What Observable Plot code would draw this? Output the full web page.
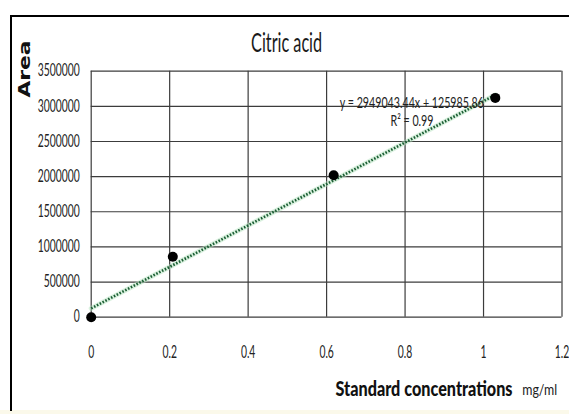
<!DOCTYPE html>
<html><head><meta charset="utf-8">
<script src="https://cdn.jsdelivr.net/npm/d3@7"></script>
<script src="https://cdn.jsdelivr.net/npm/@observablehq/plot@0.6"></script>
<style>
html,body{margin:0;padding:0;background:#fff;}
#wrap{position:relative;width:569px;height:414px;overflow:hidden;background:#fff;}
#wrap svg{position:absolute;left:0;top:0;}
#frame{position:absolute;left:10px;top:15px;width:600px;height:394px;border-left:2px solid #000;border-top:2px solid #000;pointer-events:none;}
#strip{position:absolute;left:0;top:410px;width:569px;height:4px;background:#fbf9ea;}
</style></head><body>
<div id="wrap"><div id="strip"></div></div>
<script>
// ---- data ----
const concentrations = [0, 0.208, 0.618, 1.03];
const areas = [0, 860000, 2020000, 3120000];
const xTicks = [0, 0.2, 0.4, 0.6, 0.8, 1, 1.2];
const yTicks = [0, 500000, 1000000, 1500000, 2000000, 2500000, 3000000, 3500000];
const slope = 2949043.44;
const intercept = 125985.86;
const rSquared = 0.99;
const titleText = "Citric acid";
const yLabelText = "Area";
const xLabelText = "Standard concentrations";
const xUnitText = "mg/ml";

const points = concentrations.map((c, i) => ({c, a: areas[i]}));
const trend = [d3.min(concentrations), d3.max(concentrations)].map(c => ({c, a: slope * c + intercept}));
const eqText = `y = ${slope.toFixed(2)}x + ${intercept.toFixed(2)}`;
const r2Text = `R² = ${rSquared.toFixed(2)}`;

const FONT = 'Lato, "Liberation Sans", sans-serif';
const gridStyle = {stroke: "#3c3c3c", strokeOpacity: 1, strokeWidth: 1.2};
const mid = {lineAnchor: "middle"};

const chart = Plot.plot({
  width: 569,
  height: 414,
  marginLeft: 90.7,
  marginRight: 7.5,
  marginTop: 70.7,
  marginBottom: 97.3,
  x: {domain: [0, 1.2]},
  y: {domain: [0, 3500000]},
  style: {fontFamily: FONT, fontSize: "16px", color: "#222", background: "transparent", overflow: "visible"},
  marks: [
    Plot.gridX(xTicks, gridStyle),
    Plot.gridY(yTicks, gridStyle),
    Plot.axisX({ticks: xTicks, tickSize: 0, tickPadding: 29.5, tickFormat: d => String(d), label: null, fontSize: 16.5}),
    Plot.axisY({ticks: yTicks, tickSize: 0, tickPadding: 11.4, tickFormat: d => String(d), label: null, fontSize: 16.5}),
    Plot.line(trend, {x: "c", y: "a", stroke: "#b5e3c0", strokeWidth: 5, strokeOpacity: 0.5}),
    Plot.line(trend, {x: "c", y: "a", stroke: "#1b5e34", strokeWidth: 2.6, strokeDasharray: "1.6,1.6", strokeLinecap: "butt"}),
    Plot.dot(points, {x: "c", y: "a", r: 5, fill: "#000", stroke: "none"}),
    Plot.text([titleText], {...mid, frameAnchor: "top", textAnchor: "middle", dx: -40, dy: -27.3, fontSize: 26.5, fill: "#1a1a1a"}),
    Plot.text([yLabelText], {...mid, frameAnchor: "top-left", textAnchor: "middle", dx: -66.3, dy: -2.2, rotate: -90, fontSize: 15.5, fontWeight: "bold", fontFamily: '"DejaVu Sans", sans-serif', fill: "#111"}),
    Plot.text([xLabelText], {...mid, frameAnchor: "bottom-left", textAnchor: "start", dx: 244.3, dy: 72.2, fontSize: 21.5, fontWeight: 900, fill: "#111"}),
    Plot.text([xUnitText], {...mid, frameAnchor: "bottom-left", textAnchor: "start", dx: 431, dy: 72.2, fontSize: 16, fill: "#222"}),
    Plot.text([eqText], {...mid, frameAnchor: "top-right", textAnchor: "end", dx: -78.2, dy: 32.4, fontSize: 14.5, fill: "#222"}),
    Plot.text([r2Text], {...mid, frameAnchor: "top-right", textAnchor: "middle", dx: -150, dy: 50, fontSize: 14.5, fill: "#222"})
  ]
});
const wrap = document.getElementById("wrap");
wrap.appendChild(chart);
const fr = document.createElement("div");
fr.id = "frame";
wrap.appendChild(fr);

function squeeze(el, t) {
  if (t > 0) {
    el.setAttribute("textLength", t);
    el.setAttribute("lengthAdjust", "spacingAndGlyphs");
  }
}
const targets = new Map([[titleText, 71], [yLabelText, 57], [xLabelText, 177], [xUnitText, 35], [eqText, 144], [r2Text, 43]]);
const allTexts = Array.from(chart.querySelectorAll("text"));
const ref = allTexts.find(t => t.textContent === "3500000");
const tickFactor = ref ? 42 / ref.getComputedTextLength() : 0.8;
const tickSet = new Set([...xTicks, ...yTicks].map(String));
for (const t of allTexts) {
  const s = t.textContent;
  if (targets.has(s)) squeeze(t, targets.get(s));
  else if (tickSet.has(s)) squeeze(t, t.getComputedTextLength() * tickFactor);
}
</script>
</body></html>
